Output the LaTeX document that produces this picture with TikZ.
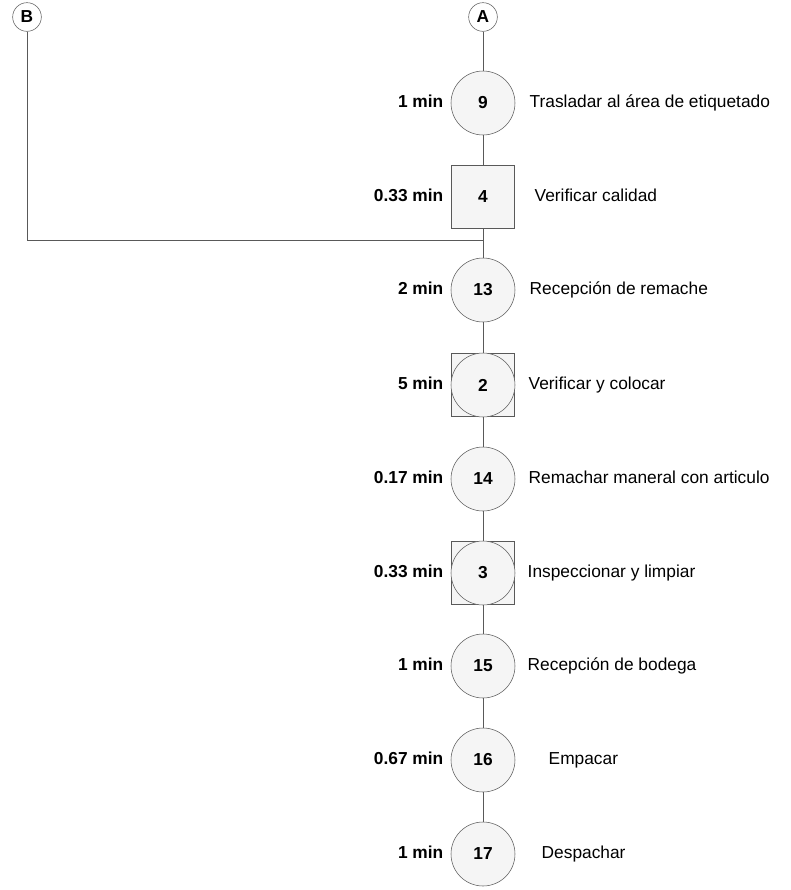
\documentclass[tikz,border=0pt]{standalone}
\usepackage{fontspec}
\setmainfont{Liberation Sans}
\usepackage{tikz}
\usetikzlibrary{positioning}

\newcommand{\lblsize}{\fontsize{13}{15}\selectfont}

\tikzset{
    opcirc/.style={circle, draw=black!65, fill=gray!8, minimum size=48pt, inner sep=0pt, font=\lblsize\bfseries},
    insbox/.style={rectangle, draw=black!65, fill=gray!8, minimum size=47.5pt, inner sep=0pt, font=\lblsize\bfseries},
    conn/.style={circle, draw=black!65, fill=white, minimum size=21.5pt, inner sep=0pt, font=\lblsize\bfseries},
    tlabel/.style={anchor=east, text height=1.6ex, text depth=0.4ex, font=\lblsize\bfseries},
    dlabel/.style={anchor=west, text height=1.6ex, text depth=0.4ex, font=\lblsize}
}

\begin{document}
\begin{tikzpicture}[x=0.75pt, y=-0.75pt]
    \useasboundingbox (0,0) rectangle (791,890);

    % connectors
    \node[conn] (A) at (483,17) {A};
    \node[conn] (B) at (27,17) {B};

    % operations and inspections
    \node[opcirc] (op9) at (483,103) {9};
    \node[insbox] (in4) at (483,197) {4};
    \node[opcirc] (op13) at (483,290) {13};
    \node[insbox] (cb2) at (483,385) {};
    \node[opcirc] (op2) at (cb2) {2};
    \node[opcirc] (op14) at (483,479) {14};
    \node[insbox] (cb3) at (483,573) {};
    \node[opcirc] (op3) at (cb3) {3};
    \node[opcirc] (op15) at (483,666) {15};
    \node[opcirc] (op16) at (483,760) {16};
    \node[opcirc] (op17) at (483,854) {17};

    % times
    \node[tlabel] (t9) at (448,103) {1 min};
    \node[tlabel] (t4) at (448,197) {0.33 min};
    \node[tlabel] (t13) at (448,290) {2 min};
    \node[tlabel] (t2) at (448,385) {5 min};
    \node[tlabel] (t14) at (448,479) {0.17 min};
    \node[tlabel] (t3) at (448,573) {0.33 min};
    \node[tlabel] (t15) at (448,666) {1 min};
    \node[tlabel] (t16) at (448,760) {0.67 min};
    \node[tlabel] (t17) at (448,854) {1 min};

    % descriptions
    \node[dlabel] (d9) at (525,103) {Trasladar al área de etiquetado};
    \node[dlabel] (d4) at (530,197) {Verificar calidad};
    \node[dlabel] (d13) at (525,290) {Recepción de remache};
    \node[dlabel] (d2) at (524,385) {Verificar y colocar};
    \node[dlabel] (d14) at (524,479) {Remachar maneral con articulo};
    \node[dlabel] (d3) at (523,573) {Inspeccionar y limpiar};
    \node[dlabel] (d15) at (523,666) {Recepción de bodega};
    \node[dlabel] (d16) at (544,760) {Empacar};
    \node[dlabel] (d17) at (537,854) {Despachar};

    % flow lines
    \coordinate (jB) at (27,240);
    \coordinate (jA) at (483,240);
    \draw[black!65] (A) -- (op9) -- (in4) -- (op13) -- (cb2) -- (op14) -- (cb3) -- (op15) -- (op16) -- (op17);
    \draw[black!65] (B) -- (jB) -- (jA);
\end{tikzpicture}
\end{document}
